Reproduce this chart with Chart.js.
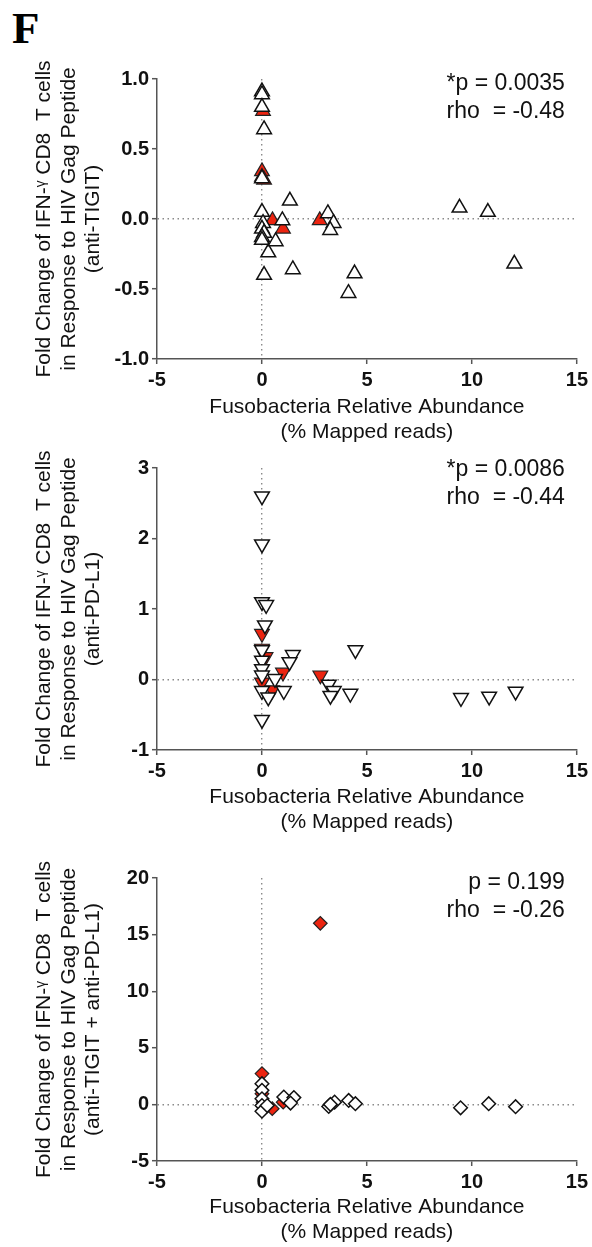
<!DOCTYPE html>
<html>
<head>
  <title>Fusobacteria vs IFN-g fold change</title>
  <script src="https://cdn.jsdelivr.net/npm/chart.js"></script>
  <style>
    body { margin: 0; background: #fff; width: 592px; height: 1247px; position: relative; overflow: hidden; }
    canvas { position: absolute; left: 0; }
    #letter { position: absolute; left: 12px; top: 2px; line-height: 1; font: bold 45px 'Liberation Serif', 'Times New Roman', serif; color: #000; }
  </style>
</head>
<body>
  <div id="letter">F</div>
  <canvas id="chartTigit" width="592" height="450" style="top:0px"></canvas>
  <canvas id="chartPdl1" width="592" height="400" style="top:450px"></canvas>
  <canvas id="chartBoth" width="592" height="397" style="top:850px"></canvas>
  <script>
    // anti-TIGIT panel (up triangles)
    const tigitWhiteX = [0, 0, 0, 0.1, 0, 0, 0.05, 0, 0.1, 0, 0, 0.1, 0.3, 0.65, 0.97, 1.33, 1.47, 3.14, 3.41, 3.25, 4.41, 4.12, 9.41, 10.76, 12.02];
    const tigitWhiteY = [0.91, 0.89, 0.80, 0.64, 0.29, 0.05, -0.03, -0.07, -0.10, -0.13, -0.15, -0.40, -0.24, -0.16, -0.01, 0.13, -0.36, 0.04, -0.03, -0.08, -0.39, -0.53, 0.08, 0.05, -0.32];
    const tigitRedX = [0.05, 0, 0, 0.1, 0.5, 1.0, 2.75];
    const tigitRedY = [0.77, 0.34, 0.30, 0.28, -0.01, -0.07, -0.01];

    // anti-PD-L1 panel (down triangles)
    const pdl1WhiteX = [0, 0, 0, 0.2, 0.14, 0, 0, 0, 0, 1.47, 1.31, 0.62, 1.04, 0, 0.3, 0, 3.18, 3.42, 3.26, 4.21, 4.45, 9.48, 10.82, 12.08];
    const pdl1WhiteY = [2.60, 1.92, 1.10, 1.06, 0.77, 0.42, 0.27, 0.15, 0.06, 0.35, 0.25, 0.01, -0.16, -0.16, -0.25, -0.57, -0.07, -0.16, -0.23, -0.20, 0.42, -0.26, -0.24, -0.17];
    const pdl1RedX = [0, 0, 0.17, 1.0, 0, 0.49, 2.78];
    const pdl1RedY = [0.65, 0.44, 0.32, 0.10, -0.04, -0.15, 0.06];

    // anti-TIGIT + anti-PD-L1 panel (diamonds)
    const bothWhiteX = [0, 0, 0, 0, 0, 0.25, 1.04, 1.52, 1.36, 3.18, 3.46, 3.26, 4.13, 4.45, 9.46, 10.8, 12.08];
    const bothWhiteY = [1.83, 1.24, 0.5, -0.1, -0.6, -0.1, 0.65, 0.6, 0.12, -0.18, 0.2, 0.0, 0.35, 0.06, -0.3, 0.06, -0.2];
    const bothRedX = [0, 0, 0.05, 0.49, 1.01, 2.78];
    const bothRedY = [2.72, 0.95, 0.2, -0.38, 0.2, 16.0];

    const xTicks = [-5, 0, 5, 10, 15];
    const xTitle = ['Fusobacteria Relative Abundance', '(% Mapped reads)'];
    const yTitleTop = ['Fold Change of IFN-\u1D5E CD8  T cells', 'in Response to HIV Gag Peptide'];

    const FONT = "'Liberation Sans', Arial, Helvetica, sans-serif";
    const RED = '#ec2410';

    function toPoints(xs, ys) {
      return xs.map((x, i) => ({ x: x, y: ys[i] }));
    }

    // p-value / rho text in the upper right of each panel
    const statsText = {
      id: 'statsText',
      afterDraw(chart, args, opts) {
        const { ctx, chartArea } = chart;
        ctx.save();
        ctx.font = '23px ' + FONT;
        ctx.fillStyle = '#111';
        ctx.textAlign = 'right';
        ctx.textBaseline = 'middle';
        opts.lines.forEach((t, i) => ctx.fillText(t, chartArea.right - 12, chartArea.top + opts.dy + i * 28));
        ctx.restore();
      }
    };

    const zeroLine = (c) => (c.tick && c.tick.value === 0) ? '#8a8a8a' : 'rgba(0,0,0,0)';

    function makePanel(id, p) {
      const ctx = document.getElementById(id).getContext('2d');
      return new Chart(ctx, {
        type: 'scatter',
        data: {
          datasets: [
            {
              data: toPoints(p.whiteX, p.whiteY),
              pointStyle: p.marker, pointRotation: p.rotation, pointRadius: p.radius,
              pointBackgroundColor: '#fff', pointBorderColor: '#111', pointBorderWidth: 1.5
            },
            {
              data: toPoints(p.redX, p.redY),
              pointStyle: p.marker, pointRotation: p.rotation, pointRadius: p.radius,
              pointBackgroundColor: RED, pointBorderColor: '#222', pointBorderWidth: 1.2
            }
          ]
        },
        options: {
          responsive: false,
          animation: false,
          layout: { padding: { top: p.padTop, right: 12, bottom: 0, left: 0 } },
          plugins: {
            legend: { display: false },
            tooltip: { enabled: false },
            statsText: { lines: p.stats, dy: p.statsDy }
          },
          scales: {
            x: {
              type: 'linear', min: -5, max: 15,
              afterBuildTicks: (s) => { s.ticks = xTicks.map(v => ({ value: v })); },
              afterFit: (s) => { s.height = p.xHeight; },
              ticks: { color: '#111', padding: 4, font: { family: FONT, size: 20, weight: 'bold' } },
              grid: { color: zeroLine, lineWidth: 1.4, tickLength: 5, tickColor: '#555', tickWidth: 1.5 },
              border: { color: '#555', width: 1.5, dash: [1.5, 3.5] },
              title: {
                display: true, text: xTitle, color: '#111',
                font: { family: FONT, size: 21, lineHeight: 1.17 },
                padding: { top: 0, bottom: p.xTitlePad }
              }
            },
            y: {
              type: 'linear', min: p.yMin, max: p.yMax,
              afterBuildTicks: (s) => { s.ticks = p.yTicks.map(v => ({ value: v })); },
              afterFit: (s) => { s.width = 157; },
              ticks: { color: '#111', padding: 3, font: { family: FONT, size: 20, weight: 'bold' }, callback: p.yFmt },
              grid: { color: zeroLine, lineWidth: 1.4, tickLength: 5, tickColor: '#555', tickWidth: 1.5 },
              border: { color: '#555', width: 1.5, dash: [1.5, 3.5] },
              title: {
                display: true, text: yTitleTop.concat([p.yLabel3]), color: '#111',
                font: { family: FONT, size: 21, lineHeight: 1.17 },
                padding: { top: 32, bottom: 0 }
              }
            }
          }
        },
        plugins: [statsText]
      });
    }

    makePanel('chartTigit', {
      whiteX: tigitWhiteX, whiteY: tigitWhiteY, redX: tigitRedX, redY: tigitRedY,
      marker: 'triangle', rotation: 0, radius: 8.5,
      yMin: -1, yMax: 1, yTicks: [-1, -0.5, 0, 0.5, 1], yFmt: (v) => v.toFixed(1),
      yLabel3: '(anti-TIGIT)',
      stats: ['*p = 0.0035', 'rho  = -0.48'], statsDy: 5,
      padTop: 79, xHeight: 91, xTitlePad: 6
    });

    makePanel('chartPdl1', {
      whiteX: pdl1WhiteX, whiteY: pdl1WhiteY, redX: pdl1RedX, redY: pdl1RedY,
      marker: 'triangle', rotation: 180, radius: 8.5,
      yMin: -1, yMax: 3, yTicks: [-1, 0, 1, 2, 3], yFmt: (v) => String(v),
      yLabel3: '(anti-PD-L1)',
      stats: ['*p = 0.0086', 'rho  = -0.44'], statsDy: 2,
      padTop: 18, xHeight: 100, xTitlePad: 16
    });

    makePanel('chartBoth', {
      whiteX: bothWhiteX, whiteY: bothWhiteY, redX: bothRedX, redY: bothRedY,
      marker: 'rectRot', rotation: 0, radius: 6.8,
      yMin: -5, yMax: 20, yTicks: [-5, 0, 5, 10, 15, 20], yFmt: (v) => String(v),
      yLabel3: '(anti-TIGIT + anti-PD-L1)',
      stats: ['p = 0.199', 'rho  = -0.26'], statsDy: 5,
      padTop: 28, xHeight: 86, xTitlePad: 3
    });
  </script>
</body>
</html>
